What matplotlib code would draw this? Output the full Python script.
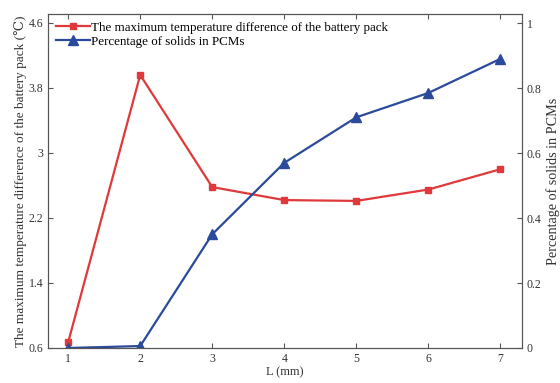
import numpy as np
import matplotlib
matplotlib.use('Agg')
import matplotlib.pyplot as plt

plt.rcParams['font.family'] = ['Liberation Serif', 'DejaVu Serif']

# data
L = [1, 2, 3, 4, 5, 6, 7]
temp_diff = [0.67, 3.96, 2.58, 2.42, 2.41, 2.55, 2.80]
solid_pct = [0.0, 0.006, 0.35, 0.57, 0.71, 0.785, 0.89]

left_ticks = [0.6, 1.4, 2.2, 3, 3.8, 4.6]
left_labels = ['0.6', '1.4', '2.2', '3', '3.8', '4.6']
right_ticks = [0, 0.2, 0.4, 0.6, 0.8, 1]
right_labels = ['0', '0.2', '0.4', '0.6', '0.8', '1']

red = '#e0393b'
blue = '#2b4a9b'

fig = plt.figure(figsize=(5.6, 3.83), dpi=100)
ax = fig.add_axes([48/560, 35/383, 474/560, 334/383])
ax2 = ax.twinx()

l1, = ax.plot(L, temp_diff, color=red, marker='s', markersize=5, lw=1.6,
              label='The maximum temperature difference of the battery pack')
l2, = ax2.plot(L, solid_pct, color=blue, marker='^', markersize=7, lw=1.6,
               label='Percentage of solids in PCMs')

ax.set_xlim(0.72, 7.3)
ax.set_ylim(0.6, 4.71)
ax2.set_ylim(0, 1.028)

ax.set_xticks(L)
ax.set_yticks(left_ticks)
ax.set_yticklabels(left_labels)
ax2.set_yticks(right_ticks)
ax2.set_yticklabels(right_labels)

ax.tick_params(direction='in', labelsize=8.5, color='#555555', labelcolor='#333333', top=True)
ax2.tick_params(direction='in', labelsize=8.5, color='#555555', labelcolor='#333333')
for a in (ax, ax2):
    for s in a.spines.values():
        s.set_color('#555555')
        s.set_linewidth(0.8)

ax.set_xlabel('L (mm)', fontsize=9, color='#333333', labelpad=1)
ax.set_ylabel('The maximum temperature difference of the battery pack (\u2103)',
              fontsize=9.5, color='#333333', labelpad=1)
ax2.set_ylabel('Percentage of solids in PCMs', fontsize=10.2, color='#333333', labelpad=3)

ax.legend([l1, l2], [l1.get_label(), l2.get_label()], loc='upper left',
          frameon=False, fontsize=9.4, handlelength=2.6, handletextpad=0.1,
          borderaxespad=0.2, labelspacing=0.12)

fig.savefig('out.png', dpi=100)
